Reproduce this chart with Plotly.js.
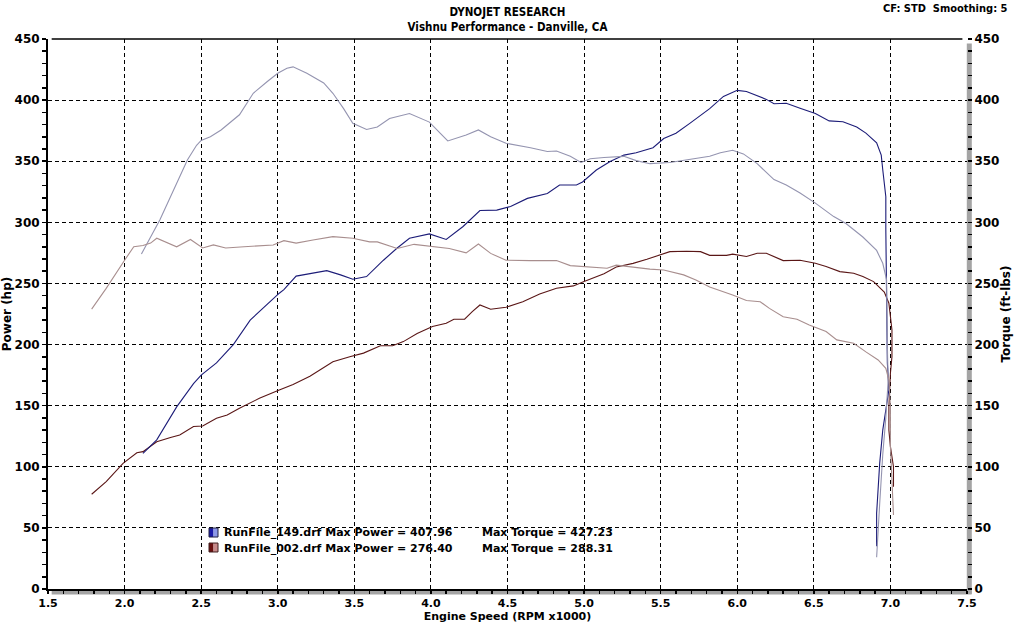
<!DOCTYPE html>
<html>
<head>
<meta charset="utf-8">
<script src="https://cdn.plot.ly/plotly-3.0.1.min.js"></script>
<style>
  html, body { margin: 0; padding: 0; background: #ffffff; }
  #chart { width: 1015px; height: 623px; }
</style>
</head>
<body>
<div id="chart"></div>
<script>
// ---------- data (RPM x1000) ----------
const runNames = ["RunFile_149.drf", "RunFile_002.drf"];
const maxPower = ["407.96", "276.40"];
const maxTorque = ["427.23", "288.31"];

const power149_rpm = [2.12,2.21,2.34,2.45,2.50,2.60,2.71,2.82,3.01,3.04,3.12,3.19,3.32,3.41,3.49,3.58,3.69,3.78,3.86,3.99,4.10,4.21,4.32,4.43,4.52,4.63,4.76,4.84,4.95,4.99,5.08,5.17,5.26,5.34,5.45,5.52,5.60,5.69,5.82,5.91,6.00,6.06,6.13,6.19,6.24,6.32,6.41,6.51,6.60,6.69,6.78,6.84,6.91,6.94,6.95,6.97,6.97,6.975,6.98,6.99,6.95,6.93,6.91,6.91];
const power149_hp  = [111,122,149,168,175,185,200,220,242,245,256,257.5,260.5,257,253.4,255.6,269,279,287,290.5,286,296.6,309.7,310,313,319.6,323.6,330.6,330.6,333,342.8,349.7,355,357,361,368.6,372.9,381,393,403,408,407,403.4,400.6,397,397.4,393.3,389,383,382.3,378,373,365,355,343,321,294,253,185,163,130,103,62,35];

const torque149_rpm = [2.11,2.17,2.23,2.32,2.41,2.47,2.50,2.56,2.63,2.75,2.84,2.93,3.00,3.06,3.10,3.19,3.30,3.36,3.43,3.49,3.58,3.65,3.73,3.86,3.99,4.06,4.11,4.23,4.31,4.39,4.49,4.65,4.76,4.82,4.91,4.98,5.04,5.13,5.26,5.34,5.43,5.56,5.69,5.82,5.89,5.97,6.04,6.13,6.24,6.32,6.41,6.51,6.63,6.71,6.82,6.91,6.95,6.975,6.98,6.985,6.97,6.95,6.93,6.91];
const torque149_ftlb = [274,288,302,326.5,351,363,367,370,375.6,388,405.6,415,422,426,427.2,422,414,405.6,393,381,376,378,385,389,382,373,366.6,371.5,375.6,370,364.7,361,358,358.4,354,349,352,353,354,350.5,348,349,351.5,354,357,359,356,348,335,330.5,324,315.7,304.7,299,288,277,266.5,253,200,170,140,110,70,26];

const power002_rpm = [1.785,1.88,1.99,2.08,2.12,2.21,2.30,2.36,2.45,2.51,2.60,2.67,2.75,2.88,3.01,3.10,3.21,3.36,3.47,3.56,3.67,3.75,3.82,3.91,4.01,4.10,4.15,4.22,4.27,4.32,4.39,4.49,4.60,4.71,4.82,4.93,5.00,5.13,5.21,5.32,5.41,5.51,5.56,5.67,5.76,5.82,5.93,5.97,6.06,6.13,6.19,6.30,6.41,6.51,6.58,6.67,6.76,6.82,6.89,6.96,6.99,7.01,7.01,7.00,6.99,6.99,7.00,7.02,7.02,7.02];
const power002_hp  = [77.5,87.8,102.8,111.5,112.4,120.5,124,126,132.9,133.4,139.7,142.4,147.9,156,162.8,167.4,174,186,190,193,199,199,202.4,209,214.7,217.4,220.7,220.7,227,232.4,228.9,230.5,235,241.4,246,248,251.5,258,263.4,266.4,269.8,274,276,276.4,276,273,273,274,272,274.7,274.7,268.7,269,266.5,263.9,259.7,258.4,255.6,251.5,243,233.8,212,190,176.5,149,130,116.5,100,89,83.7];

const torque002_rpm = [1.785,1.88,2.00,2.06,2.12,2.17,2.21,2.34,2.43,2.51,2.58,2.66,2.78,2.88,2.97,3.04,3.12,3.23,3.36,3.49,3.60,3.65,3.78,3.89,3.99,4.12,4.23,4.31,4.39,4.49,4.65,4.82,4.91,5.02,5.15,5.21,5.32,5.43,5.52,5.65,5.73,5.82,5.97,6.06,6.15,6.21,6.30,6.39,6.47,6.58,6.65,6.76,6.84,6.92,6.97,6.99,7.00,7.00,7.00,7.01,7.02,7.02];
const torque002_ftlb = [229,246,269,280,281,283,287,280,286,279,281.5,279,280,281,281.5,285,283,285.6,288.3,287,284,284,278.6,282,280.7,278.6,275,282.3,274.6,269,268.7,268.7,264.6,263.8,262.4,265,263.3,261.7,261,257,252.9,247,240.6,236,235,229.6,222.8,220.7,216,210.6,203.8,201,194,187.4,180.5,171,149,133,116.5,89,67,60.6];

const xTickVals = [1.5,2.0,2.5,3.0,3.5,4.0,4.5,5.0,5.5,6.0,6.5,7.0,7.5];
const yTickVals = [0,50,100,150,200,250,300,350,400,450];

// ---------- styles ----------
const C_P149 = "#1c1c78", C_T149 = "#9494b0", C_P002 = "#5a1616", C_T002 = "#a88e8e";
const FONT = "DejaVu Sans, Verdana, sans-serif";

const traces = [
  {x: torque149_rpm, y: torque149_ftlb, yaxis: "y2", mode: "lines", line: {color: C_T149, width: 1.1}, name: "Torque 149"},
  {x: torque002_rpm, y: torque002_ftlb, yaxis: "y2", mode: "lines", line: {color: C_T002, width: 1.1}, name: "Torque 002"},
  {x: power002_rpm, y: power002_hp, mode: "lines", line: {color: C_P002, width: 1.1}, name: "Power 002"},
  {x: power149_rpm, y: power149_hp, mode: "lines", line: {color: C_P149, width: 1.1}, name: "Power 149"}
];

const tickFont = {family: FONT, size: 12, color: "#000", weight: "bold"};
const titleFont = {family: FONT, size: 12, color: "#000", weight: "bold"};

const axisCommon = {
  showgrid: true, gridcolor: "#000", gridwidth: 1, griddash: "4px,3px",
  zeroline: false, ticks: "outside", ticklen: 4, tickcolor: "#000", tickwidth: 1.5,
  tickfont: tickFont, fixedrange: true
};

const layout = {
  width: 1015, height: 623,
  margin: {l: 48, r: 48, t: 39, b: 34, pad: 0},
  paper_bgcolor: "#fff", plot_bgcolor: "#fff",
  showlegend: false,
  title: {
    text: "DYNOJET RESEARCH<br>Vishnu Performance - Danville, CA",
    font: {family: "DejaVu Sans Condensed, DejaVu Sans, sans-serif", size: 11.5, color: "#000", weight: "bold"},
    x: 0.5, xref: "container", xanchor: "center",
    y: 0.975, yref: "container", yanchor: "top"
  },
  xaxis: Object.assign({}, axisCommon, {
    range: [1.5, 7.5], tickvals: xTickVals, ticktext: xTickVals.map(v => v.toFixed(1)),
    ticklen: 3,
    tickfont: {family: FONT, size: 11, color: "#000", weight: "bold"},
    showline: true, linecolor: "#000", linewidth: 2,
    minor: {dtick: 0.1, tick0: 1.5, ticks: "outside", ticklen: 3, tickcolor: "#000", tickwidth: 1.5, showgrid: false},
    title: {text: "Engine Speed (RPM x1000)", font: {family: FONT, size: 11, color: "#000", weight: "bold"}, standoff: 1}
  }),
  yaxis: Object.assign({}, axisCommon, {
    range: [0, 450], tickvals: yTickVals,
    showline: true, linecolor: "#000", linewidth: 2,
    minor: {dtick: 10, tick0: 0, ticks: "outside", ticklen: 4, tickcolor: "#000", tickwidth: 1.5, showgrid: false},
    title: {text: "Power (hp)", font: titleFont, standoff: 2}
  }),
  yaxis2: Object.assign({}, axisCommon, {
    range: [0, 450], tickvals: yTickVals, overlaying: "y", side: "right", showgrid: false,
    showline: false,
    minor: {dtick: 10, tick0: 0, ticks: "outside", ticklen: 4, tickcolor: "#000", tickwidth: 1.5, showgrid: false},
    title: {text: "Torque (ft-lbs)", font: titleFont, standoff: 2}
  }),
  shapes: [
    // top border line
    {type: "line", xref: "paper", yref: "paper", x0: 0.004, x1: 0.995, y0: 1, y1: 1, line: {color: "#000", width: 1.5}},
    // right gray shadow
    {type: "line", xref: "paper", yref: "paper", x0: 1.0025, x1: 1.0025, y0: -0.009, y1: 0.992, line: {color: "#a4a4a4", width: 5}, layer: "below"},
    // bottom gray shadow
    {type: "line", xref: "paper", yref: "paper", x0: 0.004, x1: 1.005, y0: -0.0055, y1: -0.0055, line: {color: "#a4a4a4", width: 5}, layer: "below"},
    // legend swatches
    {type: "rect", xref: "paper", yref: "paper", x0: 0.1752, x1: 0.1801, y0: 0.0945, y1: 0.1109, fillcolor: "#1a1aa8", line: {width: 0}},
    {type: "rect", xref: "paper", yref: "paper", x0: 0.1801, x1: 0.1850, y0: 0.0945, y1: 0.1109, fillcolor: "#8c98e8", line: {width: 0}},
    {type: "rect", xref: "paper", yref: "paper", x0: 0.1752, x1: 0.1850, y0: 0.0945, y1: 0.1109, fillcolor: "rgba(0,0,0,0)", line: {color: "#202040", width: 1}},
    {type: "rect", xref: "paper", yref: "paper", x0: 0.1752, x1: 0.1801, y0: 0.0673, y1: 0.0836, fillcolor: "#6a1010", line: {width: 0}},
    {type: "rect", xref: "paper", yref: "paper", x0: 0.1801, x1: 0.1850, y0: 0.0673, y1: 0.0836, fillcolor: "#c88a8a", line: {width: 0}},
    {type: "rect", xref: "paper", yref: "paper", x0: 0.1752, x1: 0.1850, y0: 0.0673, y1: 0.0836, fillcolor: "rgba(0,0,0,0)", line: {color: "#402020", width: 1}}
  ],
  annotations: [
    {text: "CF: STD\u00a0\u00a0Smoothing: 5", xref: "paper", yref: "paper", x: 1.0468, y: 1.056,
     xanchor: "right", yanchor: "middle", showarrow: false,
     font: {family: "DejaVu Sans Condensed, DejaVu Sans, sans-serif", size: 11, color: "#000", weight: "bold"}},
    {text: runNames[0] + " Max Power = " + maxPower[0], xref: "paper", yref: "paper", x: 0.1893, y: 0.1027,
     xanchor: "left", yanchor: "middle", showarrow: false, font: {family: FONT, size: 11, color: "#000", weight: "bold"}},
    {text: "Max Torque = " + maxTorque[0], xref: "paper", yref: "paper", x: 0.470, y: 0.1027,
     xanchor: "left", yanchor: "middle", showarrow: false, font: {family: FONT, size: 11, color: "#000", weight: "bold"}},
    {text: runNames[1] + " Max Power = " + maxPower[1], xref: "paper", yref: "paper", x: 0.1893, y: 0.0745,
     xanchor: "left", yanchor: "middle", showarrow: false, font: {family: FONT, size: 11, color: "#000", weight: "bold"}},
    {text: "Max Torque = " + maxTorque[1], xref: "paper", yref: "paper", x: 0.470, y: 0.0745,
     xanchor: "left", yanchor: "middle", showarrow: false, font: {family: FONT, size: 11, color: "#000", weight: "bold"}}
  ]
};

Plotly.newPlot("chart", traces, layout, {displayModeBar: false, staticPlot: true});
</script>
</body>
</html>
